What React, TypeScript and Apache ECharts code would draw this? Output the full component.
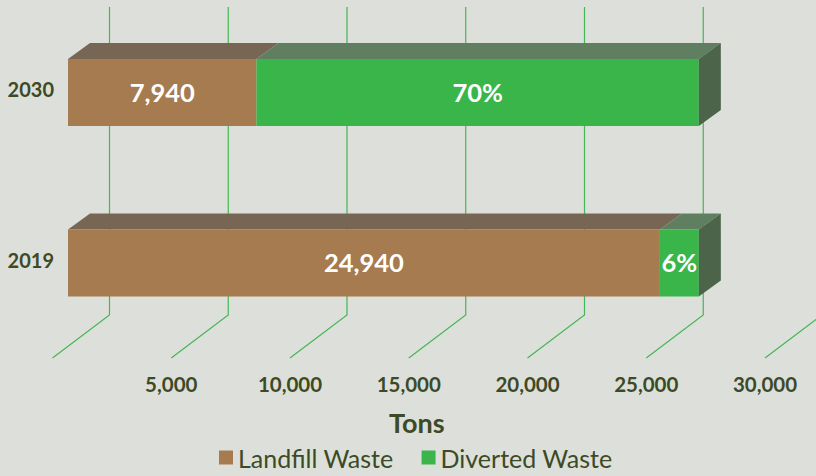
import React, { useEffect, useRef } from "react";
import * as echarts from "echarts";

const years = ["2019", "2030"];
const landfillTons = [24940, 7940];
const divertedTons = [1640, 18640];
const divertedLabels = ["6%", "70%"];
const axisTicks = [0, 5000, 10000, 15000, 20000, 25000, 30000];

const BG = "#DDE0DA";
const TEXT = "#3C4A26";
const BROWN = "#A67B50";
const GREEN = "#39B54A";
const FONT = "Lato";

function shape(points: number[][], fill: string) {
  return { type: "polygon", shape: { points }, style: { fill }, silent: true };
}

function barRenderer(front: string, top: string, side: string | null) {
  return (_p: any, api: any) => {
    const start = api.coord([api.value(0), api.value(2)]);
    const end = api.coord([api.value(1), api.value(2)]);
    const h = api.size([0, 1])[1] * 0.393;
    const dx = 22;
    const dy = 16;
    const y0 = start[1] - h / 2;
    const y1 = y0 + h;
    const x0 = start[0];
    const x1 = end[0];
    const children: any[] = [
      shape([[x0, y0], [x0 + dx, y0 - dy], [x1 + dx, y0 - dy], [x1, y0]], top),
      shape([[x0, y0], [x1, y0], [x1, y1], [x0, y1]], front),
    ];
    if (side) {
      children.push(shape([[x1, y0], [x1 + dx, y0 - dy], [x1 + dx, y1 - dy], [x1, y1]], side));
    }
    children.push({
      type: "text",
      style: {
        x: (x0 + x1) / 2,
        y: start[1] - 1,
        text: String(api.value(3)),
        fill: "#FFFFFF",
        font: `700 25.5px ${FONT}`,
        align: "center",
        verticalAlign: "middle",
      },
    });
    return { type: "group", children };
  };
}

function wallRenderer(_p: any, api: any) {
  const base = api.coord([api.value(0), 0]);
  const top = api.coord([api.value(0), 1]);
  return {
    type: "polyline",
    shape: {
      points: [
        [base[0], base[1]],
        [base[0] + 57, base[1] - 43],
        [base[0] + 57, top[1]],
      ],
    },
    style: { stroke: "#45B555", lineWidth: 1.2, fill: "none" },
    silent: true,
  };
}

export default function App() {
  const ref = useRef<HTMLDivElement>(null);
  useEffect(() => {
    document.body.style.margin = "0";
    document.body.style.background = BG;
    const chart = echarts.init(ref.current!, null, { renderer: "svg" });
    chart.setOption({
      animation: false,
      backgroundColor: BG,
      grid: [
        { left: 68, top: 7.25, width: 712, height: 341 },
        { left: 52.5, top: 7, width: 712.5, height: 351 },
      ],
      xAxis: [
        { type: "value", gridIndex: 0, min: 0, max: 30000, interval: 5000, show: false },
        {
          type: "value",
          gridIndex: 1,
          min: 0,
          max: 30000,
          interval: 5000,
          axisLine: { show: false },
          axisTick: { show: false },
          splitLine: { show: false },
          axisLabel: {
            showMinLabel: false,
            margin: 15,
            color: TEXT,
            fontFamily: FONT,
            fontWeight: 700,
            fontSize: 20.5,
            formatter: (v: number) => v.toLocaleString("en-US"),
          },
          name: "Tons",
          nameLocation: "middle",
          nameGap: 51,
          nameTextStyle: {
            color: TEXT,
            fontFamily: FONT,
            fontWeight: 700,
            fontSize: 27,
            padding: [0, 0, 0, 16],
          },
        },
      ],
      yAxis: [
        {
          type: "category",
          gridIndex: 0,
          data: years,
          axisLine: { show: false },
          axisTick: { show: false },
          axisLabel: {
            margin: 14,
            color: TEXT,
            fontFamily: FONT,
            fontWeight: 700,
            fontSize: 20,
            verticalAlign: "bottom",
            lineHeight: 7,
          },
        },
        { type: "value", gridIndex: 1, min: 0, max: 1, show: false },
      ],
      legend: {
        data: ["Landfill Waste", "Diverted Waste"],
        top: 440,
        left: 214,
        icon: "rect",
        itemWidth: 14,
        itemHeight: 14,
        itemGap: 28,
        selectedMode: false,
        textStyle: { color: TEXT, fontFamily: FONT, fontSize: 25 },
      },
      series: [
        {
          type: "custom",
          name: "gridlines",
          xAxisIndex: 1,
          yAxisIndex: 1,
          z: 1,
          renderItem: wallRenderer,
          encode: { x: 0 },
          data: axisTicks.map((t) => [t]),
        },
        {
          type: "custom",
          name: "Landfill Waste",
          xAxisIndex: 0,
          yAxisIndex: 0,
          z: 2,
          itemStyle: { color: BROWN },
          renderItem: barRenderer(BROWN, "#786655", null),
          encode: { x: [0, 1], y: 2 },
          data: years.map((_, i) => [0, landfillTons[i], i, landfillTons[i].toLocaleString("en-US")]),
        },
        {
          type: "custom",
          name: "Diverted Waste",
          xAxisIndex: 0,
          yAxisIndex: 0,
          z: 2,
          itemStyle: { color: GREEN },
          renderItem: barRenderer(GREEN, "#5F7F60", "#4C6449"),
          encode: { x: [0, 1], y: 2 },
          data: years.map((_, i) => [
            landfillTons[i],
            landfillTons[i] + divertedTons[i],
            i,
            divertedLabels[i],
          ]),
        },
      ],
    });
    return () => chart.dispose();
  }, []);
  return <div ref={ref} style={{ width: 816, height: 476 }} />;
}
